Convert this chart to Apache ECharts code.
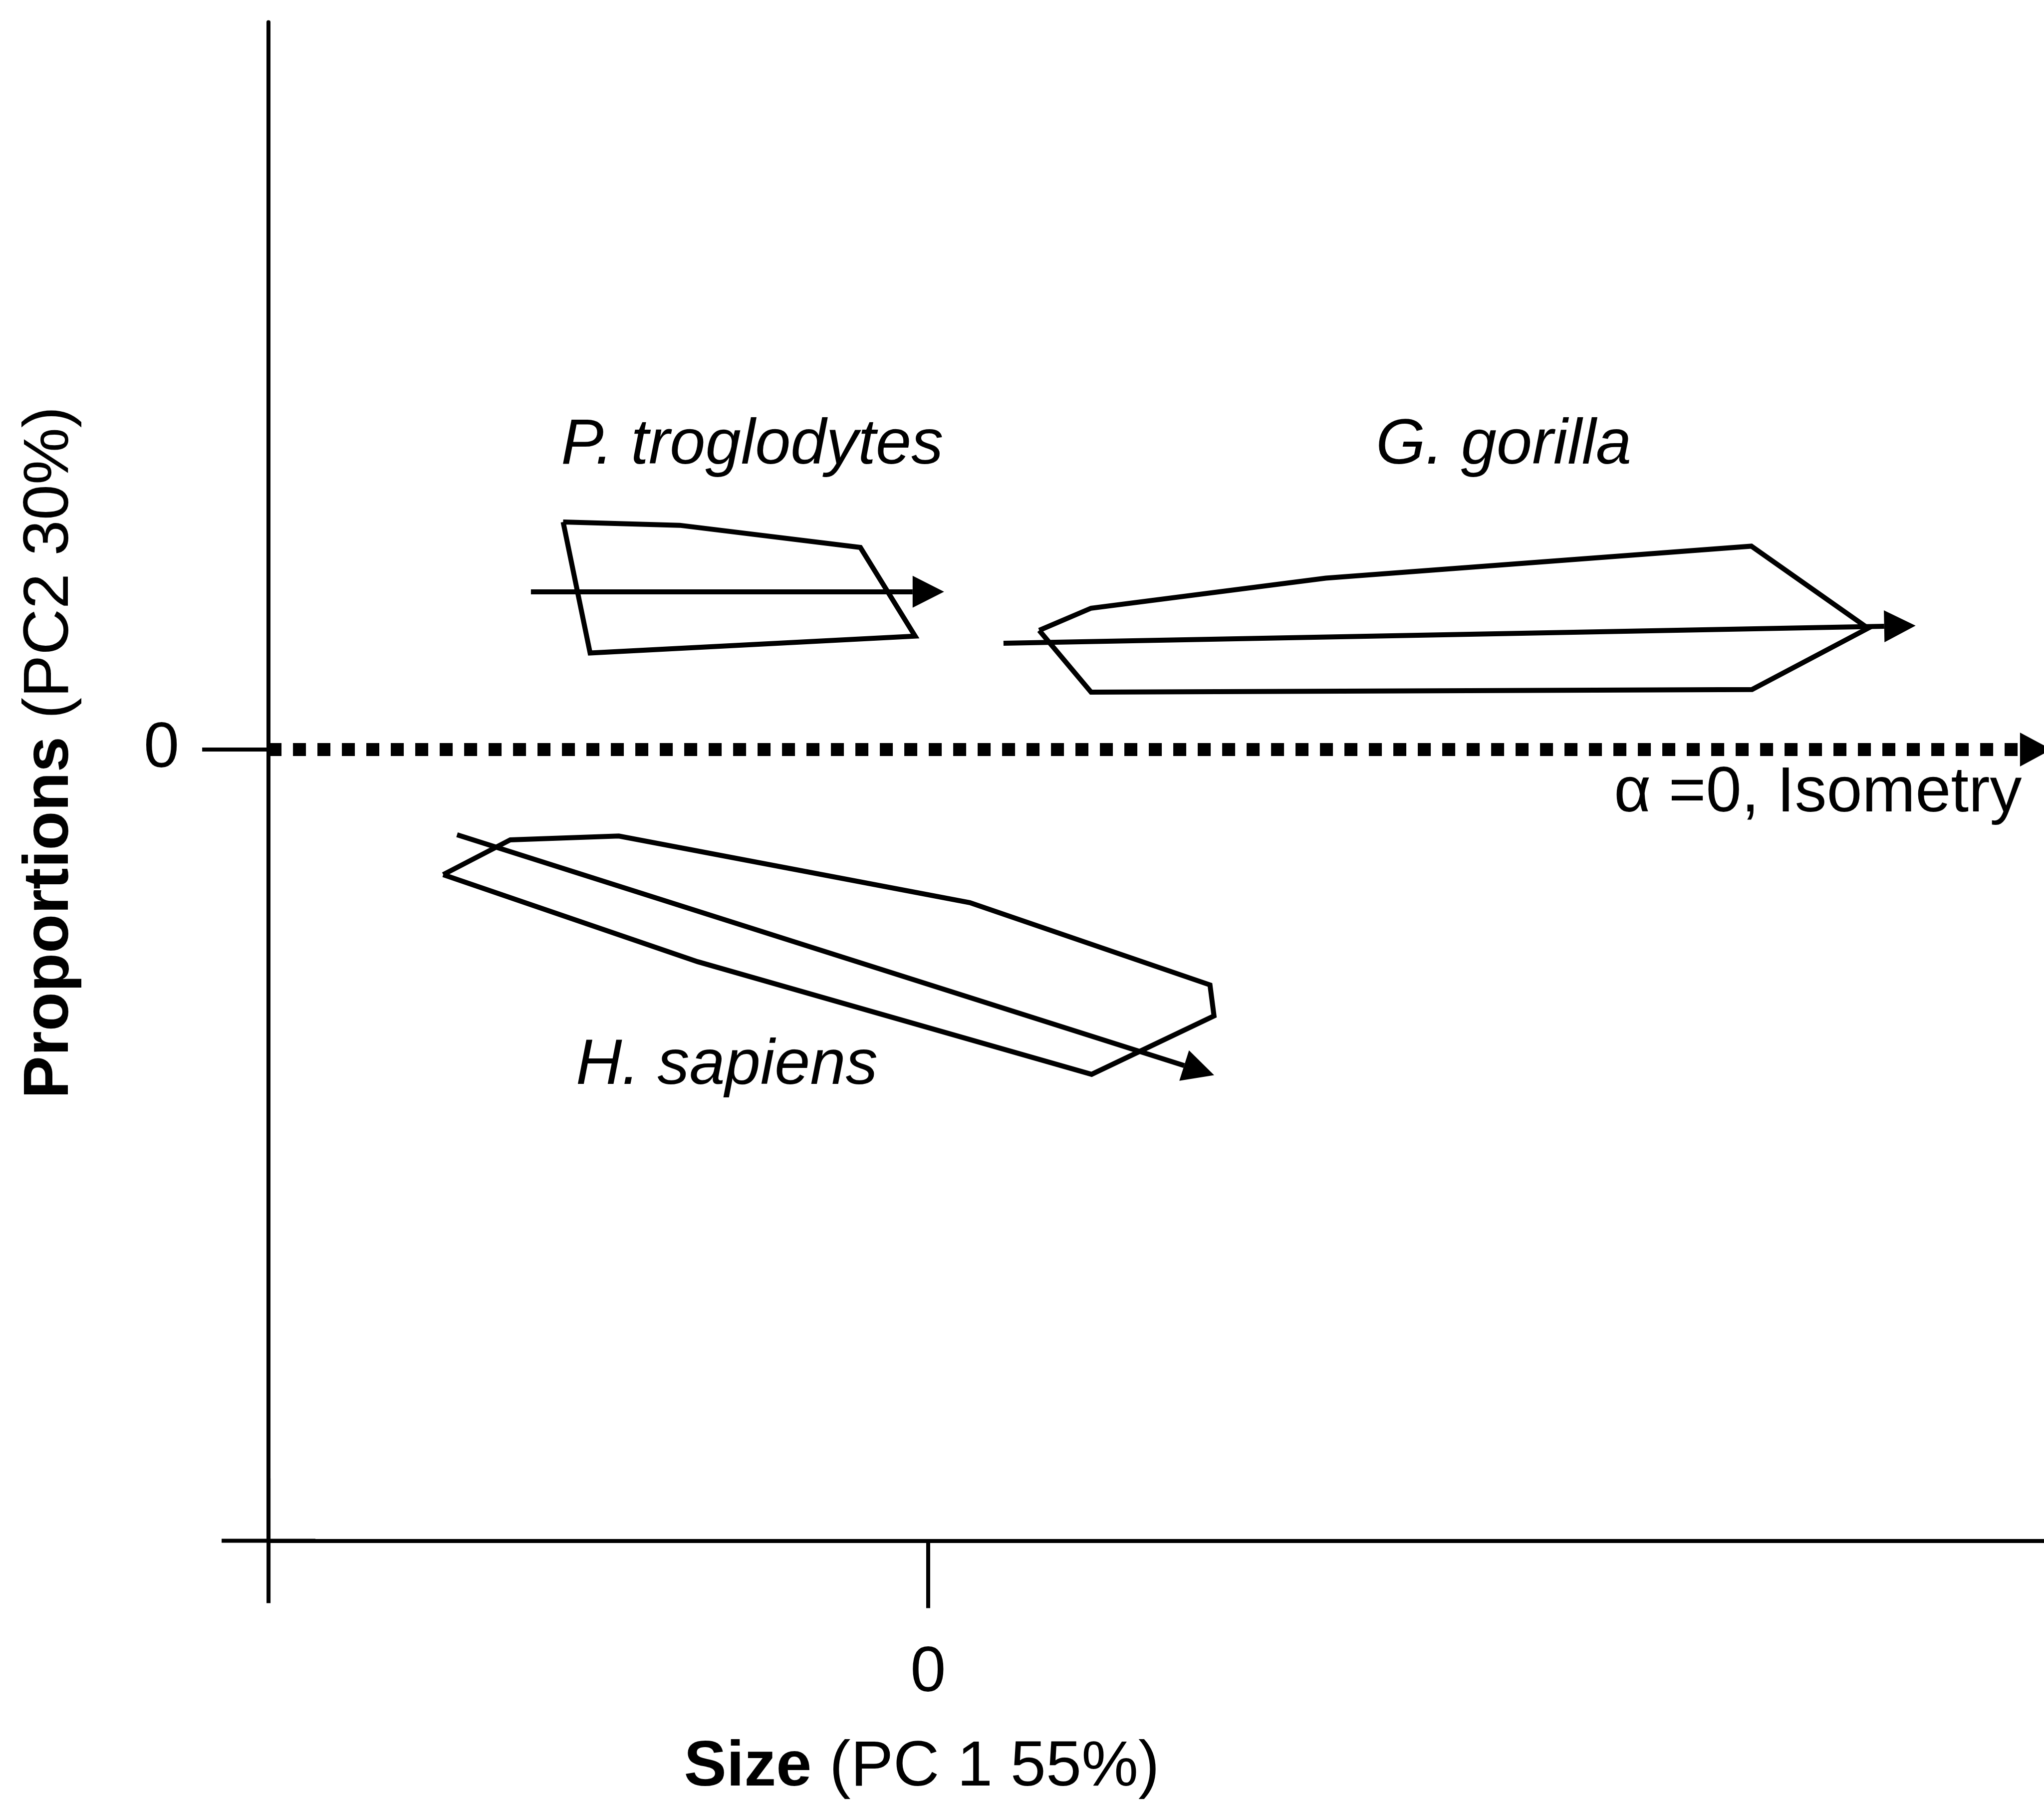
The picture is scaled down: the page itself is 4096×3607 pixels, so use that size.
<!DOCTYPE html>
<html>
<head>
<meta charset="utf-8">
<script src="https://cdn.jsdelivr.net/npm/echarts@6/dist/echarts.min.js"></script>
<style>
html,body{margin:0;padding:0;background:#fff;}
#chart{width:4096px;height:3607px;}
</style>
</head>
<body>
<div id="chart"></div>
<script>
// ---- data (PC-score units, origin at the two "0" ticks) ----
const chimpHullX   = [-2.80, -1.905, -0.52, -0.10, -2.593];
const chimpHullY   = [ 1.745, 1.72,  1.55,  0.87,  0.74];
const gorillaHullX = [0.852, 1.25,  3.05,  6.315, 7.21, 6.32, 1.25];
const gorillaHullY = [0.914, 1.084, 1.315, 1.56,  0.93, 0.46, 0.44];
const humanHullX   = [-3.72, -3.205, -2.373, 0.32,  2.162, 2.193, 1.254, -1.768];
const humanHullY   = [-0.96, -0.693, -0.664, -1.175, -1.806, -2.044, -2.492, -1.628];

// allometric trajectories (start -> base of arrow head)
const chimpTrendX   = [-3.047, -0.119];
const chimpTrendY   = [ 1.21,   1.21];
const gorillaTrendX = [0.578, 7.334];
const gorillaTrendY = [0.815, 0.945];
const humanTrendX   = [-3.614, 1.964];
const humanTrendY   = [-0.654, -2.425];
const isometryX     = [-5.06, 8.376];
const isometryY     = [0, 0];

const speciesNames  = ['P. troglodytes', 'G. gorilla', 'H. sapiens'];
const speciesLabelX = [-1.35, 4.415, -1.545];
const speciesLabelY = [ 2.33, 2.33, -2.43];
const isometryLabel = 'α =0, Isometry';
const isometryLabelX = 8.39;
const isometryLabelY = -0.34;

const xTickValues = [0];
const yTickValues = [0];
const xRange = [-5.06, 8.56];
const yRange = [-6.07, 5.58];
const xTitleBold = 'Size', xTitleRest = ' (PC 1 55%)';
const yTitleBold = 'Proportions', yTitleRest = ' (PC2 30%)';

// ---- styling ----
const FONT = "'Liberation Sans', Arial, Helvetica, sans-serif";
const FS = 128;
const HULL_W = 10;
const AXIS_W = 8;
const HEAD = [64, 63];

function closed(xs, ys) {
  const pts = xs.map((x, i) => [x, ys[i]]);
  pts.push([xs[0], ys[0]]);
  return pts;
}
function arrow(xs, ys, head) {
  return [
    { coord: [xs[0], ys[0]], symbol: 'none' },
    { coord: [xs[1], ys[1]], symbol: 'triangle', symbolSize: head, symbolOffset: [0, '-50%'] }
  ];
}
function trendMarkLine(xs, ys) {
  return {
    silent: true,
    animation: false,
    symbol: ['none', 'none'],
    label: { show: false },
    lineStyle: { color: '#000', width: HULL_W, type: 'solid', opacity: 1 },
    itemStyle: { color: '#000', opacity: 1 },
    emphasis: { disabled: true },
    data: [arrow(xs, ys, HEAD)]
  };
}
function hullSeries(name, xs, ys, tx, ty) {
  return {
    name: name,
    type: 'line',
    data: closed(xs, ys),
    symbol: 'none',
    silent: true,
    color: '#000',
    lineStyle: { color: '#000', width: HULL_W, join: 'miter', cap: 'butt', opacity: 1 },
    markLine: trendMarkLine(tx, ty),
    z: 3
  };
}

const labelData = speciesNames.map((n, i) => ({ name: n, value: [speciesLabelX[i], speciesLabelY[i]] }));
labelData.push({
  name: isometryLabel,
  value: [isometryLabelX, isometryLabelY],
  label: { position: 'left', distance: 0, fontStyle: 'normal' }
});

const chart = echarts.init(document.getElementById('chart'), null, { renderer: 'canvas' });
chart.setOption({
  backgroundColor: '#fff',
  animation: false,
  textStyle: { fontFamily: FONT, color: '#000' },
  grid: { left: 538.1, right: 0, top: 44.4, bottom: 519.6, containLabel: false },
  xAxis: {
    type: 'value', min: xRange[0], max: xRange[1],
    axisLine: { show: true, onZero: false, symbol: ['rect', 'none'], symbolSize: [AXIS_W, 188],
                lineStyle: { color: '#000', width: AXIS_W } },
    axisTick: { show: true, inside: false, length: 135, customValues: xTickValues,
                lineStyle: { color: '#000', width: AXIS_W } },
    axisLabel: { show: true, customValues: xTickValues, margin: 202, color: '#000',
                 fontFamily: FONT, fontSize: FS, lineHeight: FS },
    splitLine: { show: false }
  },
  yAxis: {
    type: 'value', min: yRange[0], max: yRange[1],
    axisLine: { show: true, onZero: false, symbol: ['rect', 'none'], symbolSize: [AXIS_W, 250],
                lineStyle: { color: '#000', width: AXIS_W } },
    axisTick: { show: true, inside: false, length: 133, customValues: yTickValues,
                lineStyle: { color: '#000', width: AXIS_W } },
    axisLabel: { show: true, customValues: yTickValues, margin: 179, color: '#000',
                 fontFamily: FONT, fontSize: FS, lineHeight: FS },
    splitLine: { show: false }
  },
  graphic: [
    {
      type: 'text', x: 1847, y: 3543, silent: true,
      style: {
        text: '{b|' + xTitleBold + '}' + xTitleRest,
        fontFamily: FONT, fontSize: FS, fill: '#000', align: 'center', verticalAlign: 'middle',
        rich: { b: { fontFamily: FONT, fontSize: FS, fontWeight: 'bold', fill: '#000' } }
      }
    },
    {
      type: 'text', x: 101, y: 1508, rotation: Math.PI / 2, silent: true,
      style: {
        text: '{b|' + yTitleBold + '}' + yTitleRest,
        fontFamily: FONT, fontSize: FS, fill: '#000', align: 'center', verticalAlign: 'middle',
        rich: { b: { fontFamily: FONT, fontSize: FS, fontWeight: 'bold', fill: '#000' } }
      }
    }
  ],
  series: [
    hullSeries('P. troglodytes', chimpHullX, chimpHullY, chimpTrendX, chimpTrendY),
    hullSeries('G. gorilla', gorillaHullX, gorillaHullY, gorillaTrendX, gorillaTrendY),
    hullSeries('H. sapiens', humanHullX, humanHullY, humanTrendX, humanTrendY),
    {
      name: 'Isometry',
      type: 'line',
      data: [],
      symbol: 'none',
      silent: true,
      color: '#000',
      markLine: {
        silent: true,
        animation: false,
        symbol: ['none', 'none'],
        label: { show: false },
        lineStyle: { color: '#000', width: 26, type: [26, 23], cap: 'butt', opacity: 1 },
        itemStyle: { color: '#000', opacity: 1 },
        emphasis: { disabled: true },
        data: [arrow(isometryX, isometryY, [68, 63])]
      },
      z: 2
    },
    {
      name: 'labels',
      type: 'scatter',
      symbolSize: 0,
      silent: true,
      itemStyle: { opacity: 1, color: '#000' },
      data: labelData,
      label: {
        show: true, position: 'inside', formatter: '{b}', opacity: 1,
        fontFamily: FONT, fontSize: FS, fontStyle: 'italic', color: '#000',
        textBorderWidth: 0
      },
      z: 4
    }
  ]
});
</script>
</body>
</html>
